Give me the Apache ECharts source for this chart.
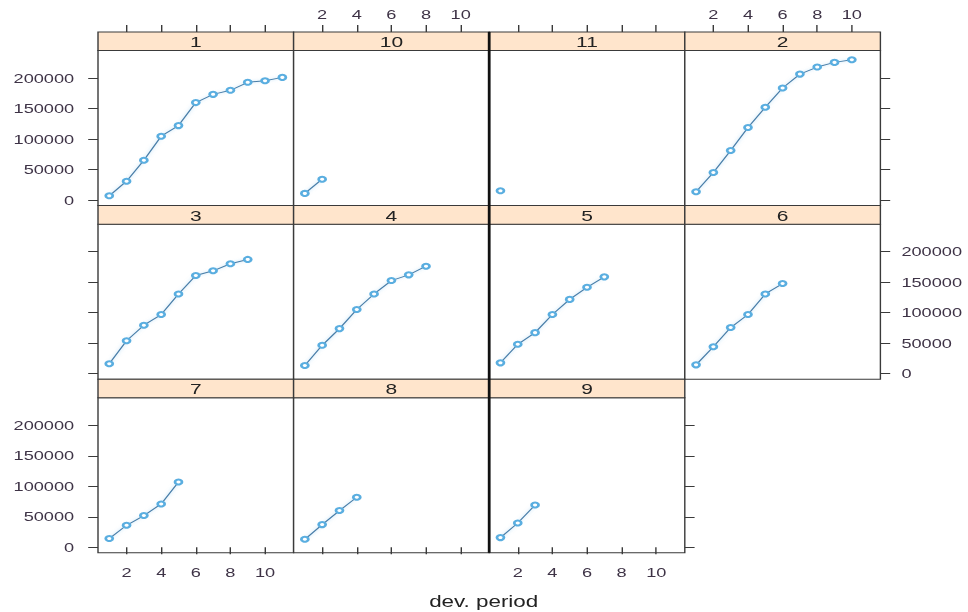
<!DOCTYPE html>
<html>
<head>
<meta charset="utf-8">
<title>dev. period</title>
<script src="https://cdn.jsdelivr.net/npm/echarts@6/dist/echarts.min.js"></script>
<style>
  html, body { margin: 0; padding: 0; background: #fff; overflow: hidden; }
  #wrap { width: 968px; height: 612px; overflow: hidden; }
  #chart { width: 691.43px; height: 612px; transform: scaleX(1.4); transform-origin: 0 0; }
</style>
</head>
<body>
<div id="wrap"><div id="chart"></div></div>
<script>
// Cumulative amounts by development period, one panel per origin period
const panelNames = ['1', '10', '11', '2', '3', '4', '5', '6', '7', '8', '9'];
const cum1  = [7000, 31000, 65400, 104700, 122100, 159800, 173300, 179900, 193000, 195700, 201100];
const cum2  = [13600, 45300, 81300, 118900, 152100, 183700, 206500, 218000, 225700, 230100];
const cum3  = [16200, 54100, 79500, 97000, 130700, 160900, 168600, 180200, 187300];
const cum4  = [13500, 46500, 73900, 105300, 130700, 152600, 162000, 176200];
const cum5  = [17800, 48200, 67300, 97000, 121800, 141600, 158700];
const cum6  = [14500, 44200, 75600, 97000, 130700, 147700];
const cum7  = [14300, 36100, 52000, 71000, 107000];
const cum8  = [13100, 37200, 60200, 82000];
const cum9  = [15900, 39800, 69300];
const cum10 = [11000, 34300];
const cum11 = [15200];
const seriesByPanel = {
  '1': cum1, '2': cum2, '3': cum3, '4': cum4, '5': cum5, '6': cum6,
  '7': cum7, '8': cum8, '9': cum9, '10': cum10, '11': cum11
};
const xTicks = [2, 4, 6, 8, 10];
const yTicks = [0, 50000, 100000, 150000, 200000];
const xTitle = 'dev. period';

// Panel geometry (layout drawn in a horizontally compressed space, stretched by CSS)
const S = 1.4;
const colLeft0 = 98 / S, colW = 195.6 / S;
const rowTop0 = 32, rowH = 173.6, stripH = 18.6, plotH = 155;
const TICK = 7;
const X_MIN = 0.35, X_MAX = 11.65;
const FONT = 'Liberation Sans, Arial, Helvetica, sans-serif';
const LAB = '#3e3346';
const EDGE = '#3a3a3a';

// Panel positions: [row, col]
const cells = [[0,0],[0,1],[0,2],[0,3],[1,0],[1,1],[1,2],[1,3],[2,0],[2,1],[2,2]];

const grids = [], xAxes = [], yAxes = [], series = [], graphics = [];

function xAxisDef(gi, pos, tick, inside, lab, margin) {
  return {
    type: 'value', gridIndex: gi, position: pos, min: X_MIN, max: X_MAX,
    axisLine: { show: false }, splitLine: { show: false },
    axisTick: { show: tick, inside: inside, length: TICK, customValues: xTicks,
                lineStyle: { color: EDGE, width: 1 } },
    axisLabel: { show: lab, customValues: xTicks, margin: margin,
                 fontSize: 13, color: LAB, fontFamily: FONT }
  };
}

cells.forEach(([r, c], i) => {
  const left = colLeft0 + c * colW;
  const stripTop = rowTop0 + r * rowH;
  const top = stripTop + stripH;
  grids.push({ left: left, top: top, width: colW, height: plotH, show: true,
               borderColor: EDGE, borderWidth: 1, backgroundColor: '#fff' });

  // bottom row carries the lower x ticks, labels on alternate columns
  const bottomRow = r === 2;
  xAxes.push(xAxisDef(i, 'bottom', bottomRow, false, bottomRow && c % 2 === 0, 13));

  // y axis ticks: left column on the left, right-most panels on the right
  let yPos = 'left', yTick = false, yLab = false;
  const rightMost = (r === 2 && c === 2) || c === 3;
  if (c === 0) { yPos = 'left'; yTick = true; yLab = (r % 2 === 0); }
  else if (rightMost) { yPos = 'right'; yTick = true; yLab = (r % 2 === 1); }
  yAxes.push({
    type: 'value', gridIndex: i, position: yPos, min: -9000, max: 245000,
    axisLine: { show: false }, splitLine: { show: false },
    axisTick: { show: yTick, inside: false, length: TICK, customValues: yTicks,
                lineStyle: { color: EDGE, width: 1 } },
    axisLabel: { show: yLab, customValues: yTicks, margin: yPos === 'left' ? 17 : 15,
                 fontSize: 13, color: LAB, fontFamily: FONT,
                 formatter: v => String(v) }
  });

  const name = panelNames[i];
  series.push({
    type: 'line', xAxisIndex: i, yAxisIndex: i, name: name,
    data: seriesByPanel[name].map((v, k) => [k + 1, v]),
    symbol: 'emptyCircle', symbolSize: 5, showSymbol: true, showAllSymbol: true,
    lineStyle: { color: '#4a7ea8', width: 1,
                 shadowColor: 'rgba(110,185,235,0.55)', shadowBlur: 3 },
    itemStyle: { color: '#5aaee0', borderWidth: 0.8 },
    silent: true, animation: false
  });

  // strip header
  graphics.push({
    type: 'group', children: [
      { type: 'rect', shape: { x: left, y: stripTop, width: colW, height: stripH },
        style: { fill: '#ffe5cc', stroke: EDGE, lineWidth: 1 } },
      { type: 'text', x: left + colW / 2, y: stripTop + stripH / 2 + 0.5,
        style: { text: name, align: 'center', verticalAlign: 'middle',
                 font: '15px ' + FONT, fill: '#222' } }
    ]
  });
});

// upper x ticks: a thin band above each first-row strip, ticks rising from the strip
for (let c = 0; c < 4; c++) {
  const gi = grids.length;
  grids.push({ left: colLeft0 + c * colW, top: rowTop0 - TICK, width: colW, height: TICK, show: false });
  xAxes.push(xAxisDef(gi, 'bottom', true, true, false, 0));
  xAxes.push(xAxisDef(gi, 'top', false, false, c % 2 === 1, 4));
  yAxes.push({ type: 'value', gridIndex: gi, min: 0, max: 1, show: false });
}

// heavier divider between the second and third columns
graphics.push({
  type: 'line', shape: { x1: colLeft0 + 2 * colW, y1: rowTop0,
                         x2: colLeft0 + 2 * colW, y2: rowTop0 + 3 * rowH },
  style: { stroke: '#111', lineWidth: 2 }, z: 100
});

const chart = echarts.init(document.getElementById('chart'), null, { renderer: 'svg' });
chart.setOption({
  animation: false,
  backgroundColor: '#fff',
  title: { text: xTitle, left: 'center', top: 588,
           textStyle: { fontSize: 16, fontWeight: 'normal', color: '#222', fontFamily: FONT } },
  grid: grids, xAxis: xAxes, yAxis: yAxes, series: series,
  graphic: graphics
});
</script>
</body>
</html>
